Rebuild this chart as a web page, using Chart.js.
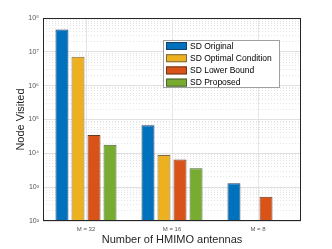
<!DOCTYPE html>
<html>
<head>
<meta charset="utf-8">
<script src="https://cdn.jsdelivr.net/npm/chart.js@4"></script>
<style>
  html, body { margin: 0; padding: 0; background: #fff; }
</style>
</head>
<body>
<canvas id="myChart" width="332" height="249"></canvas>
<script>
// data
const categories = ['M = 32', 'M = 16', 'M = 8'];
const seriesNames = ['SD Original', 'SD Optimal Condition', 'SD Lower Bound', 'SD Proposed'];
const sdOriginal = [4.6e7, 6.8e4, 1.3e3];
const sdOptimal = [7.2e6, 8.9e3, null];
const sdLower = [3.5e4, 6.6e3, 520];
const sdProposed = [1.8e4, 3.6e3, null];
const yMajorTicks = [1e2, 1e3, 1e4, 1e5, 1e6, 1e7, 1e8];
const yTickLabels = ['10²', '10³', '10⁴', '10⁵', '10⁶', '10⁷', '10⁸'];

const colors = ['#0072BD', '#EDB120', '#D95319', '#77AC30'];
const edges = ['#1a3f66', '#7a6a45', '#6b3a22', '#4d6236'];
const allSeries = [sdOriginal, sdOptimal, sdLower, sdProposed];

// minor ticks 2..9 per decade
const yMinorTicks = [];
for (let d = 2; d < 8; d++) {
    for (let m = 2; m <= 9; m++) yMinorTicks.push(m * Math.pow(10, d));
}

Chart.defaults.font.family = "'Liberation Sans', Arial, sans-serif";

// box around plot + legend inside
const boxAndLegend = {
    id: 'boxAndLegend',
    afterDraw(chart) {
        const c = chart.ctx;
        const a = chart.chartArea;
        c.save();
        c.strokeStyle = '#262626';
        c.lineWidth = 1;
        c.strokeRect(Math.round(a.left) + 0.5, Math.round(a.top) + 0.5,
            Math.round(a.right - a.left) - 1, Math.round(a.bottom - a.top) - 1);

        // legend
        const lx = 163.5, ly = 40.5, lw = 116, lh = 47;
        c.fillStyle = '#fff';
        c.fillRect(lx, ly, lw, lh);
        c.strokeStyle = '#a0a0a0';
        c.strokeRect(lx, ly, lw, lh);
        c.font = "8.5px 'Liberation Sans', Arial, sans-serif";
        c.textBaseline = 'middle';
        chart.data.datasets.forEach((ds, i) => {
            const y = 46 + i * 12.2;
            c.fillStyle = ds.backgroundColor;
            c.fillRect(166, y - 4, 21, 8);
            c.strokeStyle = ds.borderColor;
            c.strokeRect(166.5, y - 3.5, 20, 7);
            c.fillStyle = '#000';
            c.fillText(ds.label, 190, y + 0.5);
        });
        c.restore();
    }
};

new Chart(document.getElementById('myChart'), {
    type: 'bar',
    data: {
        labels: categories,
        datasets: allSeries.map((vals, i) => ({
            label: seriesNames[i],
            data: vals,
            backgroundColor: colors[i],
            borderColor: edges[i],
            borderWidth: 1,
            borderSkipped: false,
            categoryPercentage: 0.745,
            barPercentage: 0.81
        }))
    },
    options: {
        responsive: false,
        animation: false,
        devicePixelRatio: 1,
        layout: { padding: { top: 18, right: 31, left: 0, bottom: 0 } },
        plugins: { legend: { display: false }, tooltip: { enabled: false } },
        scales: {
            x: {
                grid: { offset: false, color: '#e6e6e6', drawTicks: false },
                border: { display: false },
                ticks: { color: '#555', font: { size: 6 }, padding: 5 },
                title: {
                    display: true, text: 'Number of HMIMO antennas',
                    color: '#262626', font: { size: 11 }, padding: { top: 1, bottom: 2 }
                },
                afterFit: s => { s.height = 28; }
            },
            y: {
                type: 'logarithmic',
                min: 1e2, max: 1e8,
                afterBuildTicks: s => { s.ticks = yMajorTicks.map(v => ({ value: v })); },
                grid: { color: '#e0e0e0', drawTicks: false },
                border: { display: false },
                ticks: {
                    autoSkip: false, color: '#555', font: { size: 7 }, padding: 4,
                    callback: (v) => yTickLabels[yMajorTicks.indexOf(v)]
                },
                title: {
                    display: true, text: 'Node Visited',
                    color: '#262626', font: { size: 11 }, padding: { top: 14, bottom: 2 }
                },
                afterFit: s => { s.width = 43; }
            },
            yMinor: {
                type: 'logarithmic',
                position: 'left',
                min: 1e2, max: 1e8,
                afterBuildTicks: s => { s.ticks = yMinorTicks.map(v => ({ value: v })); },
                grid: { color: '#e4e4e4', drawTicks: false },
                border: { display: false, dash: [1, 2] },
                ticks: { display: false, autoSkip: false },
                afterFit: s => { s.width = 0; }
            }
        }
    },
    plugins: [boxAndLegend]
});
</script>
</body>
</html>
